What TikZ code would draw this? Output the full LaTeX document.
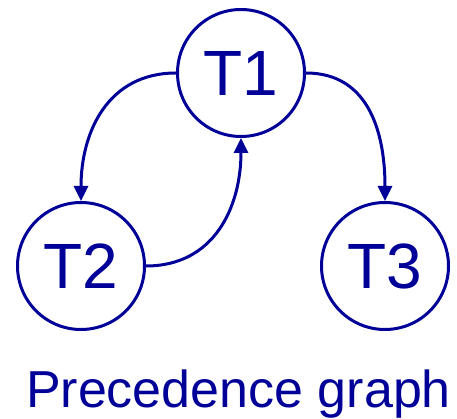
\documentclass[tikz,border=0pt]{standalone}
\usepackage{fontspec}
\setmainfont{Liberation Sans}
\usetikzlibrary{arrows.meta}
\definecolor{gblue}{RGB}{0,0,153}
\begin{document}
\begin{tikzpicture}[x=1pt,y=-1pt,
  task/.style={circle,draw=gblue,line width=3pt,minimum size=127pt,inner sep=0pt,
    text=gblue,font=\fontsize{64}{64}\selectfont},
  edge/.style={draw=gblue,line width=3pt,-{Triangle[length=15pt,width=14pt]}}]
\useasboundingbox (0,0) rectangle (457,419);
\node[task] (T1) at (241,73) {T1};
\node[task] (T2) at (81,266) {T2};
\node[task] (T3) at (385,266) {T3};
\draw[edge] (T1.west) to[out=180,in=90,looseness=1.1] (T2.north);
\draw[edge] (T2.east) to[out=0,in=-90,looseness=1.1] (T1.south);
\draw[edge] (T1.east) to[out=0,in=90,looseness=1.1] (T3.north);
\node[anchor=base,text=gblue,font=\fontsize{52}{52}\selectfont,inner sep=0pt] (cap) at (238.5,407) {Precedence graph};
\end{tikzpicture}
\end{document}
